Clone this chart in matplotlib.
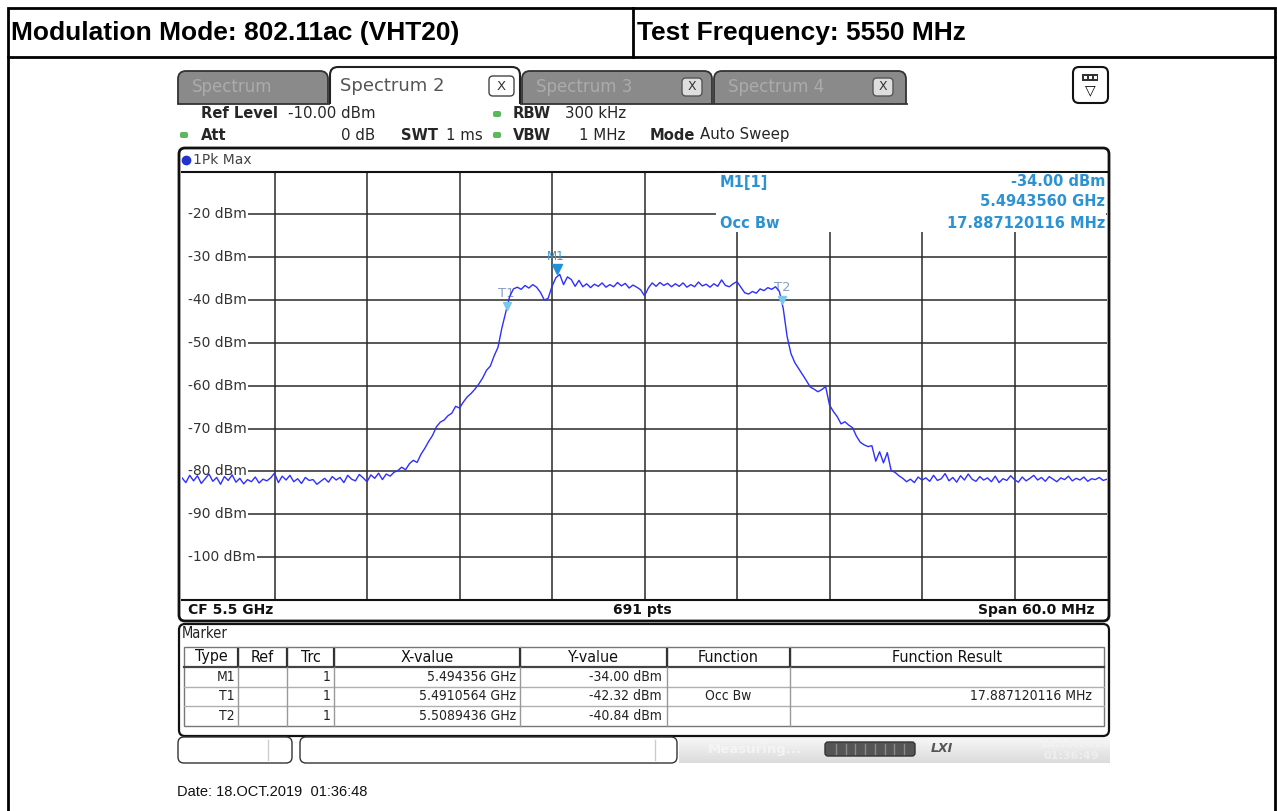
import numpy as np
import matplotlib
matplotlib.use('Agg')
import matplotlib.pyplot as plt
from matplotlib.patches import FancyBboxPatch, Rectangle
from matplotlib.transforms import offset_copy

W, H = 1277, 811

# header texts
mod_mode = 'Modulation Mode: 802.11ac (VHT20)'
test_freq = 'Test Frequency: 5550 MHz'

# analyzer settings
ref_level = '-10.00 dBm'
att = '0 dB'
swt = '1 ms'
rbw = '300 kHz'
vbw = '1 MHz'
sweep_mode = 'Auto Sweep'
center = 'CF 5.5 GHz'
points = '691 pts'
span = 'Span 60.0 MHz'

# sweep axis
f_start = 5.47   # GHz
f_stop = 5.53    # GHz
db_top = -10
db_bottom = -110
y_ticks = [-20, -30, -40, -50, -60, -70, -80, -90, -100]

# trace, one value every 0.25 MHz of the span
trace_dbm = [
    -81.5, -82.6, -80.9, -82.2, -81.0, -82.8, -81.7, -80.6, -82.3, -81.4,
    -83.0, -81.2, -82.1, -80.8, -82.5, -81.6, -82.9, -81.9, -82.4, -81.3,
    -82.7, -81.8, -82.2, -81.5, -80.4, -82.6, -81.1, -82.0, -80.9, -82.4,
    -81.7, -82.8, -81.4, -82.1, -81.9, -83.0, -82.3, -81.6, -82.5, -81.2,
    -82.0, -81.4, -82.6, -80.9, -81.8, -82.2, -80.7, -81.5, -82.4, -80.8,
    -81.6, -80.4, -81.9, -80.6, -81.1, -80.2, -79.8, -79.0, -79.6, -78.2,
    -77.4, -77.9, -76.0, -74.6, -73.0, -71.6, -69.6, -68.5, -68.0, -67.0,
    -66.4, -64.8, -65.2, -63.8, -62.6, -61.8, -60.8, -59.6, -58.2, -56.4,
    -55.4, -53.0, -51.0, -46.5, -42.8, -39.2, -37.4, -37.0, -37.5, -36.6,
    -37.2, -36.4, -37.0, -38.2, -40.0, -39.6, -36.8, -34.8, -34.0, -36.4,
    -34.6, -35.2, -36.8, -35.4, -36.9, -36.2, -37.1, -36.3, -36.8, -36.0,
    -37.0, -36.4, -36.9, -35.9, -36.7, -36.1, -37.2, -36.5, -37.0, -37.6,
    -39.0, -37.2, -36.0, -36.8, -35.9, -36.6, -36.1, -36.9, -36.2, -36.8,
    -36.0, -37.0, -36.4, -36.9, -35.8, -36.7, -36.3, -37.0, -36.2, -36.8,
    -35.3, -36.6, -36.9, -36.2, -35.7, -37.0, -38.3, -38.6, -38.0, -38.4,
    -37.4, -37.8, -37.1, -37.5, -36.9, -38.0, -42.0, -48.5, -52.5, -54.6,
    -56.0, -57.4, -58.8, -60.3, -60.8, -61.4, -60.9, -60.2, -64.5, -66.0,
    -67.2, -68.9, -68.4, -69.2, -69.8, -71.8, -73.2, -73.8, -74.2, -74.0,
    -77.6, -75.4, -78.0, -75.6, -79.8, -80.2, -81.0, -81.6, -82.4, -81.8,
    -82.6, -81.3, -82.0, -81.5, -82.3, -80.9, -82.1, -81.7, -80.5, -82.2,
    -81.4, -82.5, -81.0, -82.0, -80.6, -81.8, -82.3, -81.2, -82.0, -81.5,
    -82.4, -81.1, -82.6, -81.7, -82.1, -81.0, -81.9, -82.5, -81.3, -82.2,
    -81.6, -80.9, -82.0, -81.4, -82.3, -81.2, -81.8, -82.4, -81.5, -81.9,
    -81.1, -82.2, -81.6, -82.0, -81.3, -82.3, -81.7, -81.9, -81.4, -82.1,
    -81.8]

# markers
marker_names = ['M1', 'T1', 'T2']
marker_ghz = [5.494356, 5.4910564, 5.5089436]
marker_dbm = [-34.00, -42.32, -40.84]
marker_func = ['', 'Occ Bw', '']
occ_bw = '17.887120116 MHz'
table_cols = ['Type', 'Ref', 'Trc', 'X-value', 'Y-value', 'Function',
              'Function Result']

date_text = 'Date: 18.OCT.2019  01:36:48'

blue = '#2b92d4'
txt = '#262626'


def rect(x0, y0, x1, y1):
    """ pixel box (top-left origin) -> figure fraction """
    return [x0 / W, 1 - y1 / H, (x1 - x0) / W, (y1 - y0) / H]


def pixel_axes(fig, **kw):
    a = fig.add_axes([0, 0, 1, 1], **kw)
    a.set_xlim(0, W)
    a.set_ylim(H, 0)
    a.axis('off')
    return a


def rbox(a, x0, y0, x1, y1, r=6, **kw):
    p = FancyBboxPatch((x0, y0), x1 - x0, y1 - y0,
                       boxstyle='round,pad=0,rounding_size=%g' % r, **kw)
    a.add_patch(p)
    return p


fig = plt.figure(figsize=(W / 100, H / 100), dpi=100)
bg = pixel_axes(fig)

###
# page header
###
bg.add_patch(Rectangle((8, 8), W - 10, 49, fill=False, ec='k', lw=2))
bg.plot([633, 633], [8, 57], 'k', lw=2)
bg.plot([8, 8], [57, H], 'k', lw=2)
bg.plot([W - 2, W - 2], [57, H], 'k', lw=2)
hdr = dict(fontsize=19, weight='bold', family='Liberation Sans', va='center')
bg.text(11, 33, mod_mode, **hdr)
bg.text(637, 33, test_freq, **hdr)

###
# tabs
###
tabs = [(178, 328, 'Spectrum', None), (522, 712, 'Spectrum 3', 692),
        (714, 906, 'Spectrum 4', 883)]
for x0, x1, name, xbox in tabs:
    rbox(bg, x0, 71, x1, 120, r=8, fc='#8a8a8a', ec='#333333', lw=1.3)
    bg.text(x0 + 14, 87, name, fontsize=12, color='#ababab', va='center')
    if xbox:
        rbox(bg, xbox - 10, 78, xbox + 10, 96, r=4, fc='#dedede', ec='#555555',
             lw=1, zorder=3)
        bg.text(xbox, 87, 'X', fontsize=9, color='#333333', ha='center',
                va='center', zorder=4)
rbox(bg, 330, 67, 520, 120, r=8, fc='white', ec='#222222', lw=1.5, zorder=2)
bg.text(340, 86, 'Spectrum 2', fontsize=13, color='#555555', va='center',
        zorder=3)
rbox(bg, 489, 76, 514, 96, r=4, fc='white', ec='#444444', lw=1, zorder=3)
bg.text(501.5, 86, 'X', fontsize=9.5, color='#333333', ha='center',
        va='center', zorder=4)
bg.add_patch(Rectangle((176, 103.5), 940, 43, fc='white', ec='none', zorder=2.5))
bg.plot([178, 329], [103.5, 103.5], color='#333333', lw=1.3, zorder=3)
bg.plot([521, 907], [103.5, 103.5], color='#333333', lw=1.3, zorder=3)

# icon top right
rbox(bg, 1073, 67, 1108, 103, r=6, fc='white', ec='#111111', lw=1.5, zorder=3)
bg.add_patch(Rectangle((1082, 74), 16, 7, fc='#333333', ec='none', zorder=4))
for xi in [1084, 1089, 1094]:
    bg.add_patch(Rectangle((xi, 76), 3, 3, fc='white', ec='none', zorder=5))
bg.text(1090, 90, '\u25bd', fontsize=10, ha='center', va='center', zorder=4)

###
# settings lines
###
def green(x, y):
    rbox(bg, x - 4, y - 3, x + 4, y + 3, r=2, fc='#5cb85c', ec='none', zorder=4)

info = dict(fontsize=10.8, color=txt, va='center', zorder=4)
bold = dict(info, weight='bold', fontsize=10.6)
bg.text(201, 114, 'Ref Level', **bold)
bg.text(288, 114, ref_level, **info)
green(497, 114)
bg.text(513, 114, 'RBW', **bold)
bg.text(565, 114, rbw, **info)
green(184, 135)
bg.text(201, 135, 'Att', **bold)
bg.text(375, 135, att, ha='right', **info)
bg.text(401, 135, 'SWT', **bold)
bg.text(446, 135, swt, **info)
green(497, 135)
bg.text(513, 135, 'VBW', **bold)
bg.text(625, 135, vbw, ha='right', **info)
bg.text(650, 135, 'Mode', **bold)
bg.text(700, 135, sweep_mode, **info)

###
# diagram frame
###
rbox(bg, 179, 148, 1109, 621, r=6, fc='white', ec='#111111', lw=2, zorder=3)
bg.plot(186, 160, 'o', ms=6, color='#2233cc', zorder=4)
bg.text(193, 160, '1Pk Max', fontsize=10, color='#444444', va='center', zorder=4)
bar = dict(fontsize=10, weight='bold', color='#111111', va='center', zorder=4)
bg.text(188, 610, center, **bar)
bg.text(642, 610, points, ha='center', **bar)
bg.text(1095, 610, span, ha='right', **bar)

###
# the spectrum itself
###
ax = fig.add_axes(rect(182, 171.5, 1107, 600))
ax.set_facecolor('none')
freq = np.linspace(f_start, f_stop, len(trace_dbm))
ax.set_xlim(f_start, f_stop)
ax.set_ylim(db_bottom, db_top)
ax.set_xticks(np.linspace(f_start, f_stop, 11)[1:-1])
ax.set_yticks(y_ticks)
ax.set_axisbelow(True)
ax.grid(True, color='#2a2a2a', lw=1.1)
ax.tick_params(length=0, labelleft=False, labelbottom=False)
for side in ['left', 'right']:
    ax.spines[side].set_visible(False)
for side in ['top', 'bottom']:
    ax.spines[side].set_linewidth(1.5)
    ax.spines[side].set_color('#111111')

# level labels sit on white, hiding the left end of each grid line
ytrans = ax.get_yaxis_transform()
for y in y_ticks:
    ax.add_patch(Rectangle((0, y - 1.5), 8 / 925, 3, transform=ytrans,
                           fc='white', ec='none', zorder=1.5))
    ax.text(6 / 925, y, '%d dBm' % y, transform=ytrans, fontsize=10,
            color='#333333', va='center', zorder=2,
            bbox=dict(fc='white', ec='none', pad=1.0))

ax.plot(freq, trace_dbm, color='#2f2fff', lw=1.0, zorder=3)

# marker symbols
up = offset_copy(ax.transData, fig=fig, x=0, y=5, units='dots')
ax.plot(marker_ghz[0], marker_dbm[0], 'v', ms=7, color='#1f8fd8',
        transform=up, zorder=5)
ax.text(marker_ghz[0], marker_dbm[0], marker_names[0], fontsize=8.5,
        color='#3a9ad8', ha='center', va='bottom', zorder=5,
        transform=offset_copy(ax.transData, fig=fig, x=-2, y=11, units='dots'))
for i in [1, 2]:
    ax.plot(marker_ghz[i], marker_dbm[i], 'v', ms=6, color='#7cc8ea',
            transform=offset_copy(ax.transData, fig=fig, x=0, y=4, units='dots'),
            zorder=5)
    ax.text(marker_ghz[i], marker_dbm[i], marker_names[i], fontsize=9.5,
            color='#8a9fc4', ha='center', va='bottom', zorder=2,
            transform=offset_copy(ax.transData, fig=fig, x=0, y=10,
                                  units='dots'))

###
# marker info block and everything drawn on top
###
fg = pixel_axes(fig, facecolor='none')
fg.add_patch(Rectangle((716, 173), 390, 59, fc='white', ec='none'))
mi = dict(fontsize=10.5, weight='bold', color=blue, va='center')
fg.text(720, 182, '%s[1]' % marker_names[0], **mi)
fg.text(1105, 182, '%.2f dBm' % marker_dbm[0], ha='right', **mi)
fg.text(1105, 202, '%.7f GHz' % marker_ghz[0], ha='right', **mi)
fg.text(720, 223, marker_func[1], **mi)
fg.text(1105, 223, occ_bw, ha='right', **mi)

###
# marker table
###
rbox(bg, 179, 624, 1109, 736, r=6, fc='white', ec='#111111', lw=1.6)
tb = dict(fontsize=10, color='#222222', va='center', fontstretch='condensed')
bg.text(182, 634, 'Marker', **dict(tb, fontsize=10.5))
col_x = [184, 238, 287, 334, 520, 667, 790, 1104]
row_y = [647, 667, 686.5, 706, 726]
bg.add_patch(Rectangle((col_x[0], row_y[0]), col_x[-1] - col_x[0],
                       row_y[-1] - row_y[0], fill=False, ec='#777777', lw=1))
for y in row_y[2:-1]:
    bg.plot([col_x[0], col_x[-1]], [y, y], color='#b0b0b0', lw=1)
bg.plot([col_x[0], col_x[-1]], [row_y[1], row_y[1]], color='#444444', lw=1.6)
for x in col_x[1:-1]:
    bg.plot([x, x], [row_y[0], row_y[-1]], color='#999999', lw=1)
    bg.plot([x, x], [row_y[0] + 2, row_y[1] - 1], color='#333333', lw=1.6)
for j, name in enumerate(table_cols):
    bg.text((col_x[j] + col_x[j + 1]) / 2, 657, name, ha='center',
            **dict(tb, fontsize=11.5, color='#111111'))
for i, name in enumerate(marker_names):
    yc = (row_y[i + 1] + row_y[i + 2]) / 2
    xs = ('%.7f' % marker_ghz[i]).rstrip('0') + ' GHz'
    bg.text(col_x[1] - 3, yc, name, ha='right', **tb)
    bg.text(col_x[3] - 3, yc, '1', ha='right', **tb)
    bg.text(col_x[4] - 4, yc, xs, ha='right', **tb)
    bg.text(col_x[5] - 5, yc, '%.2f dBm' % marker_dbm[i], ha='right', **tb)
    if marker_func[i]:
        bg.text((col_x[5] + col_x[6]) / 2, yc, marker_func[i], ha='center', **tb)
        bg.text(col_x[7] - 12, yc, occ_bw, ha='right', **tb)

###
# status bar
###
rbox(bg, 178, 737, 292, 763, r=6, fc='white', ec='#333333', lw=1)
bg.plot([268, 268], [740, 760], color='#cccccc', lw=1)
rbox(bg, 300, 737, 677, 763, r=6, fc='white', ec='#333333', lw=1)
bg.plot([655, 655], [740, 760], color='#cccccc', lw=1)
grad = np.linspace(0.97, 0.86, 30)[:, None] * np.ones((1, 10))
bg.imshow(grad, cmap='gray', vmin=0, vmax=1, extent=(679, 1110, 763, 737),
          aspect='auto', zorder=0.5)
bg.set_xlim(0, W)
bg.set_ylim(H, 0)
bg.text(708, 749, 'Measuring...', fontsize=9.5, color='#f4f4f4',
        weight='bold', va='center')
rbox(bg, 825, 742, 915, 756, r=3, fc='#555555', ec='#333333', lw=1)
for xs in np.linspace(836, 904, 8):
    bg.plot([xs, xs], [744, 754], color='#8a8a8a', lw=1)
bg.text(942, 749, 'LXI', fontsize=9, weight='bold', style='italic',
        color='#555555', ha='center', va='center')
bg.text(1040, 744, '18.10.2019', fontsize=8, weight='bold', color='#f2f2f2',
        va='center')
bg.text(1044, 756, '01:36:49', fontsize=8, weight='bold', color='#eeeeee',
        va='center')

bg.text(177, 792, date_text, fontsize=10.5, family='Liberation Sans',
        color='#111111', va='center')

fig.savefig('out.png', dpi=100)
